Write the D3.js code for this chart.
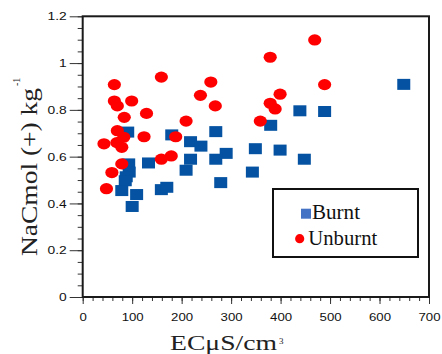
<!DOCTYPE html>
<html>
<head>
<meta charset="utf-8">
<script src="https://cdn.jsdelivr.net/npm/d3@7"></script>
<style>
  body { margin: 0; background: #fff; }
  svg { display: block; }
</style>
</head>
<body>
<div id="chart"></div>
<script>
var WIDTH = 442, HEIGHT = 354;

// data
var burntEC = [91, 93, 94, 88, 86, 79, 109, 100, 133, 159, 170, 180, 218, 239, 218, 209, 269, 269, 290, 279, 343, 349, 380, 399, 439, 489, 448, 649];
var burntNa = [0.705, 0.569, 0.534, 0.514, 0.497, 0.455, 0.438, 0.387, 0.573, 0.459, 0.469, 0.693, 0.664, 0.645, 0.589, 0.542, 0.707, 0.589, 0.614, 0.489, 0.534, 0.634, 0.734, 0.628, 0.796, 0.793, 0.589, 0.909];

var unburntEC = [43, 48, 59, 64, 64, 70, 70, 69, 79, 83, 79, 84, 99, 124, 129, 159, 159, 179, 188, 209, 238, 259, 268, 359, 379, 379, 389, 399, 469, 489];
var unburntNa = [0.655, 0.463, 0.532, 0.908, 0.838, 0.817, 0.711, 0.66, 0.64, 0.683, 0.569, 0.768, 0.838, 0.685, 0.785, 0.94, 0.589, 0.603, 0.685, 0.752, 0.862, 0.919, 0.817, 0.752, 1.025, 0.828, 0.804, 0.867, 1.099, 0.908];

var xTicks = [0, 100, 200, 300, 400, 500, 600, 700];
var xTickLabels = ["0", "100", "200", "300", "400", "500", "600", "700"];
var yTicks = [0, 0.2, 0.4, 0.6, 0.8, 1, 1.2];
var yTickLabels = ["0", "0.2", "0.4", "0.6", "0.8", "1", "1.2"];
var seriesNames = ["Burnt", "Unburnt"];

var LEFT = 82.7, RIGHT = 429, TOP = 16.3, BOTTOM = 297;

const svg = d3.select("#chart").append("svg").attr("width", WIDTH).attr("height", HEIGHT)

const x = d3.scaleLinear().domain([0, 700]).range([LEFT, RIGHT])
const y = d3.scaleLinear().domain([0, 1.2]).range([BOTTOM, TOP])

// minor ticks
svg.append("g").attr("transform", "translate(0," + BOTTOM + ")")
  .call(d3.axisBottom(x).tickValues(d3.range(0, 701, 20)).tickSize(4).tickFormat(""))
svg.append("g").attr("transform", "translate(" + LEFT + ",0)")
  .call(d3.axisLeft(y).tickValues(d3.range(0, 24.5).map(d => d * 0.05)).tickSize(5).tickFormat(""))

// major ticks
const gx = svg.append("g").attr("class", "x axis").attr("transform", "translate(0," + BOTTOM + ")")
  .call(d3.axisBottom(x).tickValues(xTicks).tickSize(7).tickFormat((d, i) => xTickLabels[i]))
gx.selectAll("text").attr("y", 24).attr("dy", 0).attr("transform", "scale(1.15,1)")

const gy = svg.append("g").attr("class", "y axis").attr("transform", "translate(" + LEFT + ",0)")
  .call(d3.axisLeft(y).tickValues(yTicks).tickSize(13).tickFormat((d, i) => yTickLabels[i]))
gy.selectAll("text").attr("x", -16 / 1.2).attr("transform", "scale(1.2,1)")

svg.selectAll(".domain").remove()
svg.selectAll(".tick line").attr("stroke", "#333").attr("stroke-width", 1)
svg.selectAll(".tick text").attr("font-family", "Liberation Sans, Arial, sans-serif").attr("font-size", 11.5).attr("fill", "#111")

// frame
svg.append("rect").attr("x", LEFT).attr("y", TOP).attr("width", RIGHT - LEFT).attr("height", BOTTOM - TOP)
  .attr("fill", "none").attr("stroke", "#1a1a1a").attr("stroke-width", 2)

// burnt squares, unburnt circles on top
svg.selectAll("rect.burnt").data(burntEC).enter().append("rect").attr("class", "burnt")
  .attr("x", d => x(d) - 6.5).attr("y", (d, i) => y(burntNa[i]) - 5.5)
  .attr("width", 13).attr("height", 11).attr("fill", "#0452a1")

svg.selectAll("ellipse.unburnt").data(unburntEC).enter().append("ellipse").attr("class", "unburnt")
  .attr("cx", d => x(d)).attr("cy", (d, i) => y(unburntNa[i]))
  .attr("rx", 6.6).attr("ry", 5.6).attr("fill", "#ff0000")

// axis titles
svg.append("text").attr("x", 170).attr("y", 349.5).attr("font-family", "Liberation Serif, Times New Roman, serif")
  .attr("font-size", 22).attr("fill", "#222").attr("textLength", 107).attr("lengthAdjust", "spacingAndGlyphs").text("ECμS/cm")
svg.append("text").attr("x", 279).attr("y", 344).attr("font-family", "Liberation Serif, Times New Roman, serif")
  .attr("font-size", 9).attr("fill", "#222").text("3")

const ylab = svg.append("g").attr("transform", "translate(37,256) rotate(-90)")
ylab.append("text").attr("x", 0).attr("y", 0).attr("font-family", "Liberation Serif, Times New Roman, serif")
  .attr("font-size", 22.5).attr("fill", "#222").attr("textLength", 168).attr("lengthAdjust", "spacingAndGlyphs").text("NaCmol (+) kg")
ylab.append("text").attr("x", 170).attr("y", -17).attr("font-family", "Liberation Serif, Times New Roman, serif")
  .attr("font-size", 10).attr("fill", "#222").text("-1")

// legend
const legend = svg.append("g").attr("id", "legend")
legend.append("rect").attr("x", 273).attr("y", 189).attr("width", 145).attr("height", 68)
  .attr("fill", "#fff").attr("stroke", "#111").attr("stroke-width", 2)
legend.append("rect").attr("x", 301).attr("y", 208.7).attr("width", 10).attr("height", 10).attr("fill", "#4472c4")
legend.append("circle").attr("cx", 299.7).attr("cy", 238.7).attr("r", 4.6).attr("fill", "#ff0000")
legend.append("text").attr("x", 312).attr("y", 219).attr("font-family", "Liberation Serif, Times New Roman, serif")
  .attr("font-size", 20).attr("fill", "#111").attr("textLength", 48).attr("lengthAdjust", "spacingAndGlyphs").text(seriesNames[0])
legend.append("text").attr("x", 308.3).attr("y", 245.3).attr("font-family", "Liberation Serif, Times New Roman, serif")
  .attr("font-size", 20).attr("fill", "#111").attr("textLength", 69).attr("lengthAdjust", "spacingAndGlyphs").text(seriesNames[1])
</script>
</body>
</html>
